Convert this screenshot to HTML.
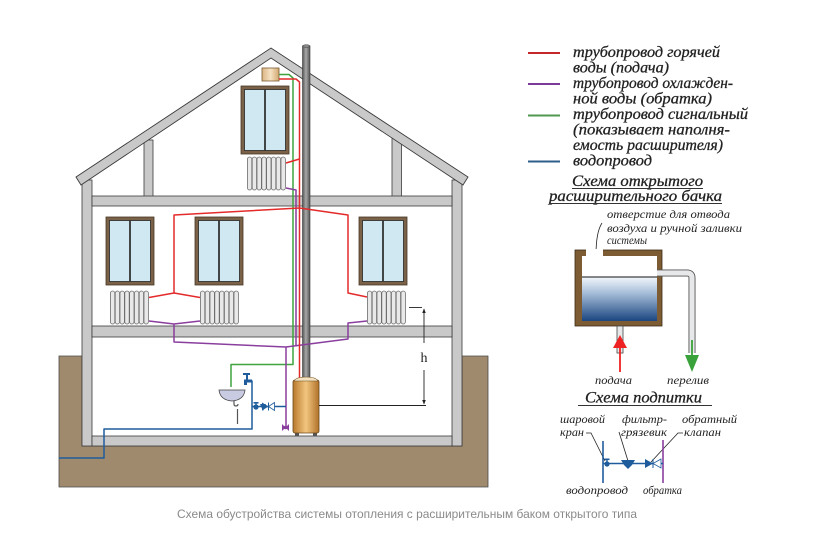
<!DOCTYPE html>
<html><head><meta charset="utf-8"><style>
html,body{margin:0;padding:0;background:#fff;}
svg{display:block;}
.t{font-family:"Liberation Serif","DejaVu Serif",serif;font-style:italic;fill:#222;}
.b{stroke:#222;stroke-width:0.3;}
.c{font-family:"Liberation Sans","DejaVu Sans",sans-serif;fill:#8a8a8a;font-size:12px;}
</style></head><body>
<svg width="816" height="540" viewBox="0 0 816 540" xmlns="http://www.w3.org/2000/svg">
<defs>
 <linearGradient id="water" x1="0" y1="0" x2="0" y2="1"><stop offset="0" stop-color="#f2f6fb"/><stop offset="0.35" stop-color="#a9c0da"/><stop offset="1" stop-color="#1b4680"/></linearGradient>
 <linearGradient id="boil" x1="0" y1="0" x2="1" y2="0"><stop offset="0" stop-color="#b8782c"/><stop offset="0.5" stop-color="#f2c680"/><stop offset="1" stop-color="#b0722a"/></linearGradient>
 <linearGradient id="tk" x1="0" y1="0" x2="1" y2="0"><stop offset="0" stop-color="#d9b482"/><stop offset="0.5" stop-color="#f6e2c4"/><stop offset="1" stop-color="#d2a870"/></linearGradient>
 <linearGradient id="chim" x1="0" y1="0" x2="1" y2="0"><stop offset="0" stop-color="#555"/><stop offset="0.45" stop-color="#a8a8a8"/><stop offset="1" stop-color="#555"/></linearGradient>
 <g id="rad" fill="#e9e9e9" stroke="#6e6e6e" stroke-width="0.8">
  <rect x="0.4" y="0" width="4.4" height="33" rx="2.2"/>
  <rect x="5.2" y="0" width="4.4" height="33" rx="2.2"/>
  <rect x="10" y="0" width="4.4" height="33" rx="2.2"/>
  <rect x="14.8" y="0" width="4.4" height="33" rx="2.2"/>
  <rect x="19.6" y="0" width="4.4" height="33" rx="2.2"/>
  <rect x="24.4" y="0" width="4.4" height="33" rx="2.2"/>
  <rect x="29.2" y="0" width="4.4" height="33" rx="2.2"/>
  <rect x="34" y="0" width="4.4" height="33" rx="2.2"/>
 </g>
 <g id="win">
  <rect x="0" y="0" width="48" height="68" fill="#7a6249" stroke="#4a3826" stroke-width="0.8"/>
  <rect x="3.5" y="3.5" width="41" height="61" fill="#cfe8f2" stroke="#333" stroke-width="0.9"/>
  <line x1="24" y1="3.5" x2="24" y2="64.5" stroke="#333" stroke-width="1.8"/>
 </g>
 <marker id="ah" viewBox="0 0 10 10" refX="9" refY="5" markerWidth="5" markerHeight="5" orient="auto"><path d="M0,1 L10,5 L0,9 z" fill="#222"/></marker>
</defs>

<!-- ground -->
<path d="M59,356 H82 V446 H462 V356 H488 V487 H59 Z" fill="#a08a6d" stroke="#4a4a4a" stroke-width="0.8"/>

<!-- posts -->
<rect x="144" y="140" width="9" height="57" fill="#c9c9c9" stroke="#3a3a3a" stroke-width="0.8"/>
<rect x="392" y="136" width="9.5" height="61" fill="#c9c9c9" stroke="#3a3a3a" stroke-width="0.8"/>
<!-- walls -->
<rect x="82" y="180" width="10" height="266" fill="#c9c9c9" stroke="#3a3a3a" stroke-width="0.8"/>
<rect x="452" y="180" width="10" height="266" fill="#c9c9c9" stroke="#3a3a3a" stroke-width="0.8"/>
<!-- beams -->
<rect x="92" y="196" width="360" height="10" fill="#c9c9c9" stroke="#3a3a3a" stroke-width="0.8"/>
<rect x="92" y="326" width="360" height="11" fill="#c9c9c9" stroke="#3a3a3a" stroke-width="0.8"/>
<rect x="92" y="436" width="360" height="10" fill="#c9c9c9" stroke="#3a3a3a" stroke-width="0.8"/>
<!-- roof -->
<path d="M76,177 L271,48 L468,177 L463,185 L271,58 L81,185 Z" fill="#c9c9c9" stroke="#3a3a3a" stroke-width="0.9"/>

<!-- chimney -->
<rect x="302.5" y="46" width="7.5" height="332" fill="url(#chim)" stroke="#3a3a3a" stroke-width="0.6"/>
<ellipse cx="306.25" cy="46" rx="3.75" ry="1.3" fill="#888" stroke="#3a3a3a" stroke-width="0.5"/>

<!-- windows -->
<use href="#win" x="241" y="86"/>
<use href="#win" x="106" y="217"/>
<use href="#win" x="195" y="217"/>
<use href="#win" x="359" y="217"/>

<!-- radiators -->
<use href="#rad" x="247" y="157"/>
<use href="#rad" x="110" y="291"/>
<use href="#rad" x="200" y="291"/>
<use href="#rad" x="367" y="291"/>

<!-- expansion tank -->
<rect x="262" y="68" width="17" height="13" fill="url(#tk)" stroke="#7a5a30" stroke-width="0.8"/>

<!-- pipes -->
<g fill="none" stroke-width="1.5" stroke-linejoin="round">
 <path d="M279,74.5 H289 L293,78 V364.5 H231 V387" stroke="#3fa33f"/>
 <path d="M286,188 L296,190 V346.5" stroke="#8a3e9e"/>
 <path d="M149,321 L174,324 L200,321 M174,324 V342 L286,347 L348,339 V323 L367,321" stroke="#8a3e9e"/>
 <path d="M286,347 V428" stroke="#8a3e9e"/>
 <path d="M279,79 H296 L299.5,82 V378" stroke="#e42a2a"/>
 <path d="M299.5,159 L286,163" stroke="#e42a2a"/>
 <path d="M174,293 V215 L299.5,208 L348,215 V293 L367,297 M149,297.5 L174,293 L200,297.5" stroke="#e42a2a"/>
 <path d="M59,458 H104 V429 H252 V381 H246" stroke="#1f5c9c"/>
 <path d="M252,406.5 H286" stroke="#1f5c9c"/>
</g>

<!-- tap -->
<rect x="243" y="373" width="7" height="2" fill="#1f5c9c"/>
<rect x="246" y="374.5" width="2" height="5" fill="#1f5c9c"/>
<path d="M252,379.5 H244 V385 H247 V382.5 H252 Z" fill="#1f5c9c"/>
<!-- valves blue -->
<circle cx="256" cy="407" r="2.6" fill="#1f5c9c"/>
<rect x="253.5" y="402" width="5" height="1.6" fill="#1f5c9c"/>
<rect x="255.3" y="402" width="1.4" height="4" fill="#1f5c9c"/>
<path d="M260,404 H266 L263,411 Z" fill="#1f5c9c"/>
<path d="M262,402.5 L268.5,406.5 L262,410.5 Z" fill="#1f5c9c"/>
<path d="M274.5,402.5 L268.5,406.5 L274.5,410.5 Z" fill="#fff" stroke="#1f5c9c" stroke-width="0.8"/>
<line x1="268.5" y1="402.5" x2="268.5" y2="410.5" stroke="#1f5c9c" stroke-width="1"/>
<!-- purple valve -->
<path d="M282,424 L289,431 V424 L282,431 Z" fill="#8a3e9e"/>
<circle cx="285.5" cy="427.5" r="1.8" fill="#8a3e9e"/>

<!-- sink -->
<path d="M219,390 H245 Q244,400 232,401 Q220,400 219,390 Z" fill="#c8cbe2" stroke="#444" stroke-width="0.8"/>
<path d="M234,401 V404 Q234,406 236,406 Q238,406 238,404" fill="none" stroke="#555" stroke-width="1.2"/>
<line x1="237.5" y1="409" x2="237.5" y2="424" stroke="#555" stroke-width="1.2"/>

<!-- boiler -->
<rect x="295" y="432" width="4" height="4" fill="#555"/>
<rect x="313" y="432" width="4" height="4" fill="#555"/>
<rect x="293" y="380" width="26" height="53" rx="2" fill="url(#boil)" stroke="#6b4a1c" stroke-width="0.8"/>
<path d="M294,381 Q296,377 306,377 Q316,377 318,381 Z" fill="#f3e1c0" stroke="#6b4a1c" stroke-width="0.6"/>

<!-- h dimension -->
<g stroke="#222" stroke-width="0.9" fill="none">
 <line x1="319" y1="405.5" x2="426" y2="405.5"/>
 <line x1="409" y1="307.5" x2="422" y2="307.5"/>
 <line x1="424" y1="343" x2="424" y2="309" marker-end="url(#ah)"/>
 <line x1="424" y1="370" x2="424" y2="404" marker-end="url(#ah)"/>
</g>
<text x="424" y="362" text-anchor="middle" font-family="Liberation Serif, serif" font-size="14" fill="#222">h</text>

<!-- legend -->
<g stroke-width="2">
 <line x1="528" y1="53" x2="560" y2="53" stroke="#c4262c"/>
 <line x1="528" y1="84" x2="560" y2="84" stroke="#7c3b98"/>
 <line x1="528" y1="115.5" x2="560" y2="115.5" stroke="#4f9a4f"/>
 <line x1="528" y1="161.5" x2="560" y2="161.5" stroke="#2e5f8b"/>
</g>
<g class="t b" font-size="16">
 <text x="573" y="57" textLength="147" lengthAdjust="spacingAndGlyphs">трубопровод горячей</text>
 <text x="573" y="72.5" textLength="96" lengthAdjust="spacingAndGlyphs">воды (подача)</text>
 <text x="573" y="88" textLength="160" lengthAdjust="spacingAndGlyphs">трубопровод охлажден-</text>
 <text x="573" y="103.5" textLength="139" lengthAdjust="spacingAndGlyphs">ной воды (обратка)</text>
 <text x="573" y="119" textLength="175" lengthAdjust="spacingAndGlyphs">трубопровод сигнальный</text>
 <text x="573" y="134.5" textLength="157" lengthAdjust="spacingAndGlyphs">(показывает наполня-</text>
 <text x="573" y="150" textLength="150" lengthAdjust="spacingAndGlyphs">емость расширителя)</text>
 <text x="573" y="165.5" textLength="79" lengthAdjust="spacingAndGlyphs">водопровод</text>
 <text x="572" y="186" textLength="131" lengthAdjust="spacingAndGlyphs">Схема открытого</text>
 <text x="549" y="201" textLength="173" lengthAdjust="spacingAndGlyphs">расширительного бачка</text>
 <text x="585" y="402.5" textLength="117" lengthAdjust="spacingAndGlyphs">Схема подпитки</text>
</g>
<g stroke="#333" stroke-width="0.9">
 <line x1="572" y1="188.5" x2="703" y2="188.5"/>
 <line x1="549" y1="203.5" x2="722" y2="203.5"/>
 <line x1="578" y1="405.5" x2="712" y2="405.5"/>
</g>

<!-- tank schema -->
<g class="t" font-size="11.5">
 <text x="607" y="218" textLength="123" lengthAdjust="spacingAndGlyphs">отверстие для отвода</text>
 <text x="607" y="232" textLength="135" lengthAdjust="spacingAndGlyphs">воздуха и ручной заливки</text>
 <text x="607" y="244" textLength="40" lengthAdjust="spacingAndGlyphs">системы</text>
 <text x="595" y="384" textLength="37" lengthAdjust="spacingAndGlyphs">подача</text>
 <text x="667" y="384" textLength="42" lengthAdjust="spacingAndGlyphs">перелив</text>
</g>
<path d="M602,223 Q596,232 596,255" fill="none" stroke="#222" stroke-width="0.8" marker-end="url(#ah)"/>
<rect x="575" y="250" width="87" height="76" fill="#7d5c34" stroke="#3d2c16" stroke-width="0.8"/>
<rect x="582" y="256" width="75" height="65" fill="#fff"/>
<rect x="586" y="249" width="17" height="8" fill="#fff"/>
<rect x="582" y="277" width="75" height="44" fill="url(#water)"/>
<line x1="582" y1="277" x2="657" y2="277" stroke="#111" stroke-width="0.9"/>
<path d="M657,273 H687 Q692,273 692,278 V353" fill="none" stroke="#555" stroke-width="7"/>
<path d="M657,273 H687 Q692,273 692,278 V353" fill="none" stroke="#e6e8ea" stroke-width="5.2"/>
<line x1="692" y1="340" x2="692" y2="358" stroke="#3aa23a" stroke-width="1.8"/>
<path d="M685,355 L699,355 L692,372 Z" fill="#3aa23a"/>
<rect x="617" y="326" width="6" height="27" fill="#e6e8ea" stroke="#444" stroke-width="0.8"/>
<line x1="620" y1="345" x2="620" y2="372" stroke="#ee2222" stroke-width="1.8"/>
<path d="M613,348 L627,348 L620,335 Z" fill="#ee2222"/>

<!-- makeup schema -->
<g class="t" font-size="12">
 <text x="560" y="423" textLength="45" lengthAdjust="spacingAndGlyphs">шаровой</text>
 <text x="560" y="436" textLength="24" lengthAdjust="spacingAndGlyphs">кран</text>
 <text x="622" y="423" textLength="45" lengthAdjust="spacingAndGlyphs">фильтр-</text>
 <text x="621" y="436" textLength="46" lengthAdjust="spacingAndGlyphs">грязевик</text>
 <text x="682" y="423" textLength="55" lengthAdjust="spacingAndGlyphs">обратный</text>
 <text x="684" y="436" textLength="37" lengthAdjust="spacingAndGlyphs">клапан</text>
 <text x="566" y="494" textLength="62" lengthAdjust="spacingAndGlyphs">водопровод</text>
 <text x="643" y="494" textLength="39" lengthAdjust="spacingAndGlyphs">обратка</text>
</g>
<g fill="none" stroke="#222" stroke-width="0.8">
 <path d="M586,433 H591 L605,461"/>
 <path d="M619,432 L628,461"/>
 <path d="M683,433 H678 L651,462"/>
</g>
<line x1="603" y1="441" x2="603" y2="483" stroke="#1f5c9c" stroke-width="1.6"/>
<line x1="663" y1="440" x2="663" y2="483" stroke="#8a3e9e" stroke-width="1.6"/>
<line x1="603" y1="463.5" x2="663" y2="463.5" stroke="#1f5c9c" stroke-width="1.6"/>
<circle cx="607" cy="464" r="2.6" fill="#1f5c9c"/>
<rect x="604.5" y="458.5" width="5" height="1.6" fill="#1f5c9c"/>
<rect x="606.3" y="459" width="1.4" height="4" fill="#1f5c9c"/>
<path d="M621,460 H635 L632,465 L628,469 L624,465 Z" fill="#1f5c9c"/>
<path d="M645,459 L653,463.5 L645,468 Z" fill="#1f5c9c"/>
<path d="M661,459 L653,463.5 L661,468 Z" fill="#fff" stroke="#1f5c9c" stroke-width="0.8"/>
<line x1="653" y1="459" x2="653" y2="468" stroke="#1f5c9c" stroke-width="1"/>

<!-- caption -->
<text class="c" x="407" y="518" text-anchor="middle" textLength="460" lengthAdjust="spacingAndGlyphs">Схема обустройства системы отопления с расширительным баком открытого типа</text>
</svg>
</body></html>
